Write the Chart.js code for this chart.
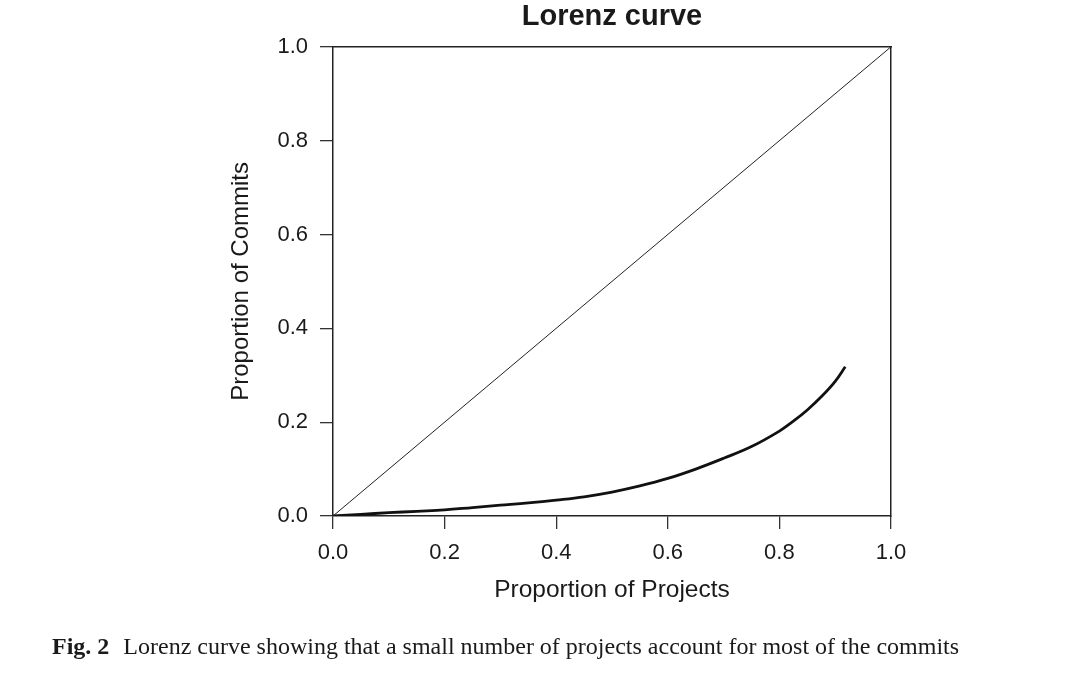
<!DOCTYPE html>
<html>
<head>
<meta charset="utf-8">
<script src="https://cdn.jsdelivr.net/npm/chart.js@4/dist/chart.umd.min.js"></script>
<style>
  html, body { margin: 0; padding: 0; background: #fff; }
  #wrap { position: relative; width: 1080px; height: 676px; }
  #c { position: absolute; left: 0; top: 0; }
  #caption { position: absolute; left: 52px; top: 633px; font-family: "Liberation Serif", "DejaVu Serif", serif; font-size: 24px; color: #1a1a1a; white-space: nowrap; }
  #caption b { margin-right: 8px; }
</style>
</head>
<body>
<div id="wrap">
  <canvas id="c" width="1080" height="676"></canvas>
  <div id="caption"><b>Fig. 2</b> Lorenz curve showing that a small number of projects account for most of the commits</div>
</div>
<script>
// Data
const projectShare = [0, 0.05, 0.1, 0.15, 0.2, 0.25, 0.3, 0.35, 0.4, 0.45, 0.5, 0.55, 0.6, 0.65, 0.7, 0.75, 0.8, 0.825, 0.85, 0.875, 0.9, 0.918];
const commitShare  = [0, 0.0035, 0.007, 0.010, 0.013, 0.018, 0.023, 0.028, 0.034, 0.041, 0.051, 0.064, 0.080, 0.100, 0.123, 0.148, 0.181, 0.202, 0.226, 0.254, 0.287, 0.318];
const equalityX = [0, 1];
const equalityY = [0, 1];
const xTicks = [0, 0.2, 0.4, 0.6, 0.8, 1.0];
const yTicks = [0, 0.2, 0.4, 0.6, 0.8, 1.0];
const titleText = 'Lorenz curve';
const xTitle = 'Proportion of Projects';
const yTitle = 'Proportion of Commits';

const FONT = '"Liberation Sans", Arial, Helvetica, sans-serif';
const INK = '#1a1a1a';

const curvePts = projectShare.map((x, i) => ({ x, y: commitShare[i] }));
const diagPts = equalityX.map((x, i) => ({ x, y: equalityY[i] }));

new Chart(document.getElementById('c'), {
  type: 'scatter',
  data: {
    datasets: [
      { data: diagPts, showLine: true, borderColor: '#222', borderWidth: 1, pointRadius: 0, fill: false },
      { data: curvePts, showLine: true, borderColor: '#111', borderWidth: 2.8, pointRadius: 0, fill: false, tension: 0.4 }
    ]
  },
  options: {
    responsive: false,
    animation: false,
    devicePixelRatio: 1,
    layout: { padding: { left: 225, right: 189, top: 0, bottom: 67 } },
    plugins: {
      legend: { display: false },
      tooltip: { enabled: false },
      title: {
        display: true, text: titleText, color: INK, fullSize: false,
        font: { family: FONT, size: 29, weight: 'bold' },
        padding: { top: 0, bottom: 12 }
      }
    },
    scales: {
      x: {
        type: 'linear', position: 'bottom', min: 0, max: 1,
        afterBuildTicks: s => { s.ticks = xTicks.map(v => ({ value: v })); },
        afterFit: s => { s.height = 93; },
        ticks: { color: INK, font: { family: FONT, size: 22 }, padding: 11, callback: v => v.toFixed(1), maxRotation: 0 },
        grid: { drawOnChartArea: false, drawTicks: true, tickLength: 13, color: '#333', lineWidth: 1.3 },
        border: { display: true, color: '#222', width: 1.5 },
        title: { display: true, text: xTitle, color: INK, font: { family: FONT, size: 24.5 }, padding: { top: 4, bottom: 4 } }
      },
      y: {
        type: 'linear', position: 'left', min: 0, max: 1,
        afterBuildTicks: s => { s.ticks = yTicks.map(v => ({ value: v })); },
        afterFit: s => { s.width = 108; },
        ticks: { color: INK, font: { family: FONT, size: 22 }, padding: 12, callback: v => v.toFixed(1) },
        grid: { drawOnChartArea: false, drawTicks: true, tickLength: 13, color: '#333', lineWidth: 1.3 },
        border: { display: true, color: '#222', width: 1.5 },
        title: { display: true, text: yTitle, color: INK, font: { family: FONT, size: 24 }, padding: { top: 2, bottom: 2 } }
      },
      x2: {
        type: 'linear', position: 'top', min: 0, max: 1,
        afterFit: s => { s.height = 0; },
        ticks: { display: false },
        grid: { drawOnChartArea: false, drawTicks: false },
        border: { display: true, color: '#222', width: 1.5 }
      },
      y2: {
        type: 'linear', position: 'right', min: 0, max: 1,
        afterFit: s => { s.width = 0; },
        ticks: { display: false },
        grid: { drawOnChartArea: false, drawTicks: false },
        border: { display: true, color: '#222', width: 1.5 }
      }
    }
  }
});
</script>
</body>
</html>
